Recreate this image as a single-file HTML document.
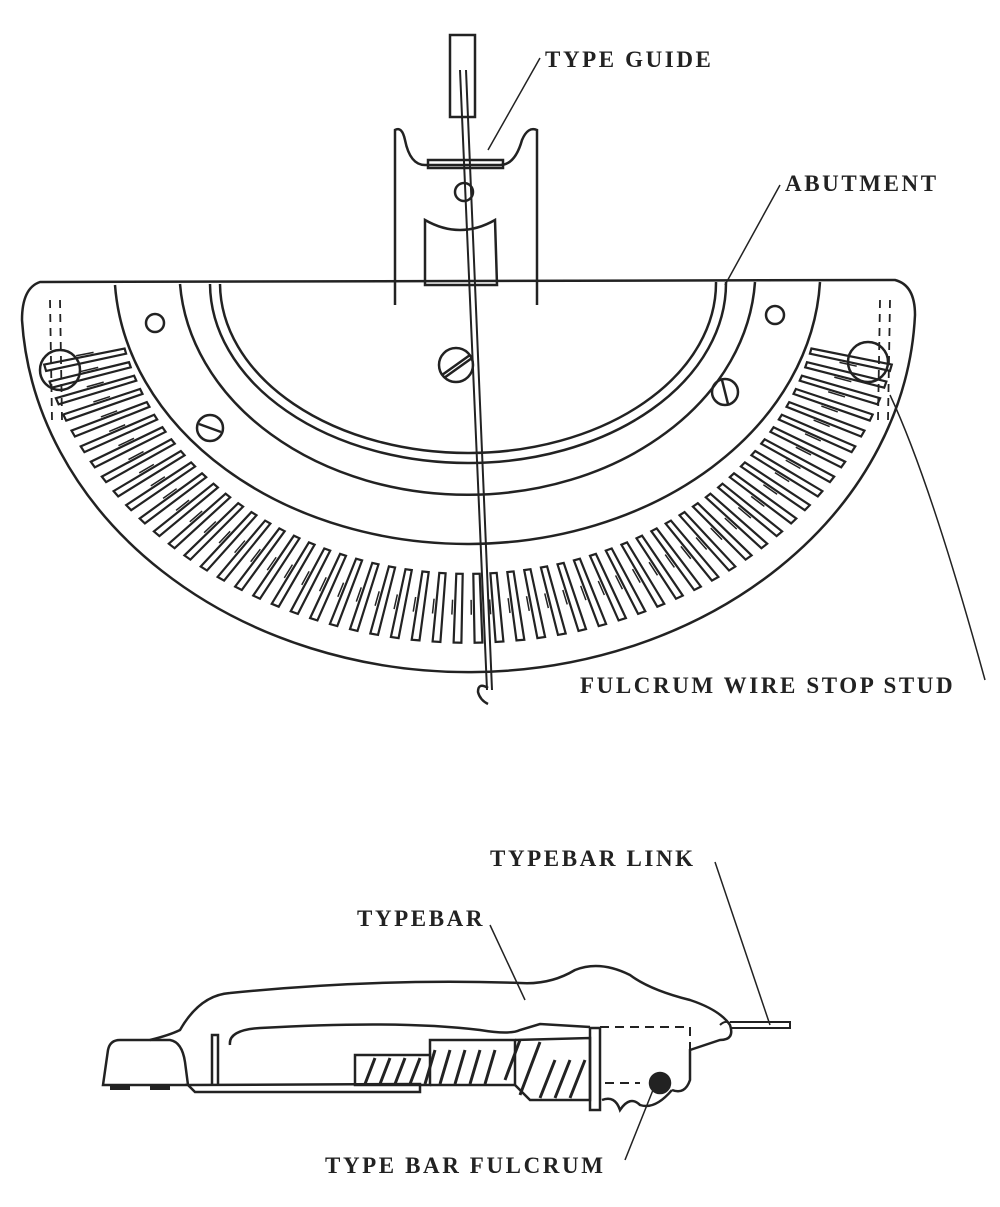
<!DOCTYPE html>
<html><head><meta charset="utf-8"><style>
body{margin:0;background:#fff;}
svg{display:block}
text{font-family:"Liberation Serif",serif;font-weight:bold;font-size:23px;fill:#222;letter-spacing:2.6px;}
</style></head><body>
<svg id="s" width="1000" height="1207" viewBox="0 0 1000 1207" xmlns="http://www.w3.org/2000/svg" fill="none" stroke="#222" stroke-width="2.5">
<path d="M40 282 L895 280 Q915 285 915 315 A447 372 0 0 1 22 320 Q22 288 40 282 Z"/>
<path d="M115 285 A353 275 0 0 0 820 282"/>
<path d="M180 284 A288 225 0 0 0 755 282"/>
<path d="M210 284 A258 180 0 0 0 726 282"/>
<path d="M220 284 A248 170 0 0 0 716 282"/>
<circle cx="155" cy="323" r="9"/><circle cx="775" cy="315" r="9"/>
<circle cx="456" cy="365" r="17"/><line x1="442" y1="375" x2="470" y2="355"/><line x1="444" y1="378" x2="472" y2="358"/>
<circle cx="210" cy="428" r="13"/><line x1="199" y1="424" x2="221" y2="432"/>
<circle cx="725" cy="392" r="13"/><line x1="722" y1="380" x2="728" y2="404"/>
<circle cx="60" cy="370" r="20"/><circle cx="868" cy="362" r="20"/>
<path d="M50 300 L52 420 M60 300 L62 420 M880 300 L878 420 M890 300 L888 420" stroke-dasharray="8 6" stroke-width="1.8"/>
<g id="slots" stroke-width="2.2"></g>
<path d="M395 305 L395 130 Q402 126 405 140 Q410 165 425 165 L500 165 Q515 165 522 140 Q528 126 537 130 L537 305"/>
<path d="M428 160 L428 168 L503 168 L503 160 Z"/>
<path d="M425 220 Q460 240 495 220 L497 285 L425 285 Z"/>
<rect x="450" y="35" width="25" height="82"/>
<circle cx="464" cy="192" r="9"/>
<path d="M460 70 L487 690 M466 70 L492 690" stroke-width="2"/>
<path d="M488 688 Q478 682 478 692 Q480 700 488 704" stroke-width="2.5"/>
<path d="M540 58 L488 150" stroke-width="1.5"/>
<path d="M780 185 L725 285" stroke-width="1.5"/>
<path d="M890 395 Q930 480 985 680" stroke-width="1.5"/>
<path d="M715 862 L770 1025" stroke-width="1.5"/>
<path d="M490 925 L525 1000" stroke-width="1.5"/>
<path d="M625 1160 L655 1085" stroke-width="1.5"/>
<text x="545" y="67" stroke="none">TYPE GUIDE</text>
<text x="785" y="191" stroke="none">ABUTMENT</text>
<text x="580" y="693" stroke="none">FULCRUM WIRE STOP STUD</text>
<text x="490" y="866" stroke="none">TYPEBAR LINK</text>
<text x="357" y="926" stroke="none">TYPEBAR</text>
<text x="325" y="1173" stroke="none">TYPE BAR FULCRUM</text>
<path d="M150 1040 Q170 1035 180 1030 Q200 995 230 993 Q380 978 520 983 Q550 985 575 970 Q600 960 630 975 Q650 990 690 1000 Q720 1010 730 1025 Q735 1040 720 1040 L690 1050 L690 1080 Q685 1095 672 1090"/>
<path d="M103 1085 L108 1050 Q110 1040 120 1040 L170 1040 Q182 1042 185 1062 L188 1085 Z"/>
<path d="M212 1085 L212 1035 L218 1035 L218 1085"/>
<path d="M230 1045 Q228 1030 260 1028 Q400 1020 480 1030 Q510 1035 520 1030 L540 1024 L590 1027"/>
<path d="M188 1085 L420 1084 L420 1092 L195 1092 Z"/>
<path d="M355 1055 L430 1055 L430 1085 L355 1085 Z"/>
<path d="M430 1055 L430 1040 L515 1040 L515 1085 L430 1085" />
<path d="M515 1040 L590 1038 L590 1100 L530 1100 L515 1085"/>
<path d="M590 1028 L600 1028 L600 1110 L590 1110 Z"/>
<g stroke-width="3">
<path d="M365 1084 L375 1058 M380 1084 L390 1058 M395 1084 L405 1058 M410 1084 L420 1058 M425 1084 L435 1050 M440 1084 L450 1050 M455 1084 L465 1050 M470 1084 L480 1050 M485 1084 L495 1050 M505 1080 L520 1040 M520 1095 L540 1042 M540 1098 L555 1060 M555 1098 L570 1060 M570 1098 L585 1060"/>
</g>
<path d="M600 1027 L690 1027 L690 1050 M605 1083 L640 1083" stroke-dasharray="9 6" stroke-width="2"/>
<path d="M602 1100 Q615 1095 620 1110 Q630 1095 640 1105 Q655 1110 672 1090"/>
<circle cx="660" cy="1083" r="10" fill="#222"/>
<path d="M720 1025 Q725 1020 730 1023 M730 1022 L790 1022 L790 1028 L730 1028" stroke-width="2"/>
<path d="M110 1088 L130 1088 M150 1088 L170 1088" stroke-width="4"/>
</svg>
<script>
var g=document.getElementById('slots'),ns='http://www.w3.org/2000/svg',cx=468,cy=280,rx=447,ry=372,n=56;
for(var i=0;i<n;i++){var a=(166-i*(152/(n-1)))*Math.PI/180,w=0.009;
var pts=[];[[0.79,-w],[0.975,-w],[0.975,w],[0.79,w]].forEach(function(p){var b=a+p[1];pts.push((cx+rx*p[0]*Math.cos(b)).toFixed(1)+','+(cy+ry*p[0]*Math.sin(b)).toFixed(1));});
var e=document.createElementNS(ns,'polygon');e.setAttribute('points',pts.join(' '));g.appendChild(e);
var l=document.createElementNS(ns,'line');var t1=0.86,t2=0.9;
l.setAttribute('x1',cx+rx*t1*Math.cos(a+0.016));l.setAttribute('y1',cy+ry*t1*Math.sin(a+0.016));
l.setAttribute('x2',cx+rx*t2*Math.cos(a+0.016));l.setAttribute('y2',cy+ry*t2*Math.sin(a+0.016));l.setAttribute('stroke-width','1.5');g.appendChild(l);}
</script>
</body></html>
